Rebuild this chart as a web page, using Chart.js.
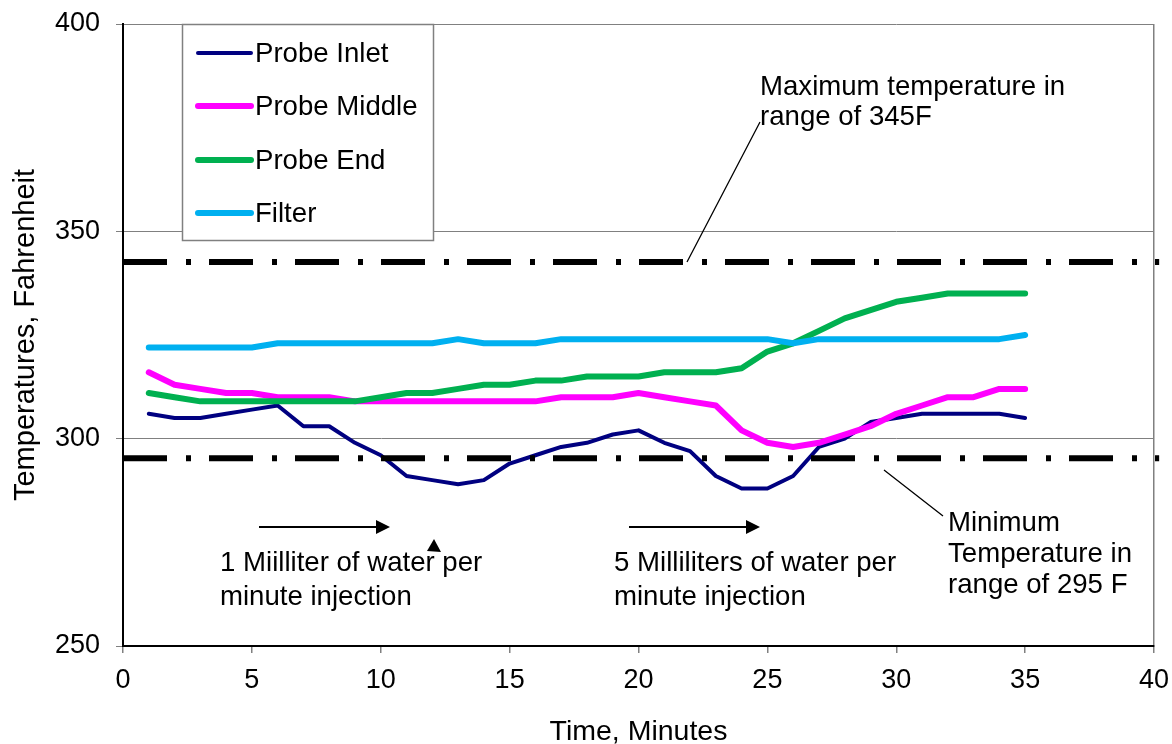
<!DOCTYPE html>
<html>
<head>
<meta charset="utf-8">
<script src="https://cdn.jsdelivr.net/npm/chart.js@4.4.1/dist/chart.umd.min.js"></script>
<style>
  html, body { margin: 0; padding: 0; background: #fff; }
  #wrap { width: 1172px; height: 744px; }
</style>
</head>
<body>
<div id="wrap"><canvas id="lineChart" width="1172" height="744"></canvas></div>
<script>
// time in minutes
const minutes = [1,2,3,4,5,6,7,8,9,10,11,12,13,14,15,16,17,18,19,20,21,22,23,24,25,26,27,28,29,30,31,32,33,34,35];

// temperatures, F
const probeInlet  = [306,305,305,306,307,308,303,303,299,296,291,290,289,290,294,296,298,299,301,302,299,297,291,288,288,291,298,300,304,305,306,306,306,306,305];
const probeMiddle = [316,313,312,311,311,310,310,310,309,309,309,309,309,309,309,309,310,310,310,311,310,309,308,302,299,298,299,301,303,306,308,310,310,312,312];
const probeEnd    = [311,310,309,309,309,309,309,309,309,310,311,311,312,313,313,314,314,315,315,315,316,316,316,317,321,323,326,329,331,333,334,335,335,335,335];
const filterTemp  = [322,322,322,322,322,323,323,323,323,323,323,323,324,323,323,323,324,324,324,324,324,324,324,324,324,323,324,324,324,324,324,324,324,324,325];

// limit lines
const limitX  = [0, 40.2];
const maxTemp = [342.6, 342.6];
const minTemp = [295.3, 295.3];

const seriesNames  = ['Probe Inlet', 'Probe Middle', 'Probe End', 'Filter'];
const seriesColors = ['#000080', '#FF00FF', '#00B050', '#00B0F0'];
const seriesWidths = [4, 6, 6, 6];
const seriesData   = [probeInlet, probeMiddle, probeEnd, filterTemp];

const FONT = "'Liberation Sans', Arial, sans-serif";
const FS = 27;      // ticks
const NS = 27.6;    // legend + notes
const TS = 29;      // axis titles

function pts(xs, ys) {
    return xs.map((x, i) => ({ x: x, y: ys[i] }));
}

let datasets = seriesNames.map((name, i) => ({
    label: name,
    data: pts(minutes, seriesData[i]),
    borderColor: seriesColors[i],
    backgroundColor: seriesColors[i],
    borderWidth: seriesWidths[i],
    borderCapStyle: 'round',
    borderJoinStyle: 'round',
    pointRadius: 0,
    tension: 0,
    order: 3 - i
}));

[maxTemp, minTemp].forEach(arr => {
    datasets.push({
        label: '',
        data: pts(limitX, arr),
        borderColor: '#000',
        borderWidth: 6,
        borderDash: [44, 19, 5, 18],
        borderCapStyle: 'butt',
        pointRadius: 0,
        clip: false,
        order: -1,
        isLimit: true
    });
});

// legend box and text notes
const notes = {
    id: 'notes',
    afterDraw(chart) {
        const c = chart.ctx;
        c.save();
        // legend
        c.fillStyle = '#fff';
        c.fillRect(182, 24, 251, 217);
        c.strokeStyle = '#808080';
        c.lineWidth = 1.5;
        c.strokeRect(182.5, 24.5, 251, 216);
        const rows = [53, 106, 160, 213];
        c.font = NS + 'px ' + FONT;
        c.textBaseline = 'middle';
        c.textAlign = 'left';
        chart.data.datasets.forEach((ds, i) => {
            if (ds.isLimit) return;
            c.strokeStyle = ds.borderColor;
            c.lineWidth = ds.borderWidth;
            c.lineCap = 'round';
            c.beginPath();
            c.moveTo(198, rows[i]);
            c.lineTo(251, rows[i]);
            c.stroke();
            c.fillStyle = '#000';
            c.fillText(ds.label, 255, rows[i] + 1);
        });

        // annotations
        c.fillStyle = '#000';
        c.textBaseline = 'alphabetic';
        c.fillText('Maximum temperature in', 760, 95);
        c.fillText('range of 345F', 760, 125);
        c.fillText('1 Miilliter of water per', 220, 571);
        c.fillText('minute injection', 220, 605);
        c.fillText('5 Milliliters of water per', 614, 571);
        c.fillText('minute injection', 614, 605);
        c.fillText('Minimum', 948, 531);
        c.fillText('Temperature in', 948, 562);
        c.fillText('range of 295 F', 948, 593);

        // leader lines
        c.strokeStyle = '#000';
        c.lineWidth = 1.3;
        c.lineCap = 'butt';
        c.beginPath();
        c.moveTo(760, 122); c.lineTo(687, 262);
        c.moveTo(884, 470); c.lineTo(943, 516);
        c.stroke();

        // arrows
        [[259, 390], [629, 760]].forEach(a => {
            c.lineWidth = 2;
            c.beginPath();
            c.moveTo(a[0], 527);
            c.lineTo(a[1] - 12, 527);
            c.stroke();
            c.beginPath();
            c.moveTo(a[1], 527);
            c.lineTo(a[1] - 14, 520);
            c.lineTo(a[1] - 14, 534);
            c.closePath();
            c.fill();
        });
        // small stray arrowhead
        c.beginPath();
        c.moveTo(434, 539);
        c.lineTo(427, 551);
        c.lineTo(441, 552);
        c.closePath();
        c.fill();
        c.restore();
    }
};

const line = document.getElementById('lineChart');
const lineChart = new Chart(line, {
    type: 'line',
    data: { datasets: datasets },
    options: {
        responsive: false,
        animation: false,
        events: [],
        layout: { padding: { top: 24, right: 18, left: 0, bottom: 0 } },
        plugins: {
            legend: { display: false },
            tooltip: { enabled: false }
        },
        scales: {
            x: {
                type: 'linear',
                min: 0,
                max: 40,
                afterFit: s => {
                    s.height = 98;
                    s.paddingLeft = 0;
                    s.paddingRight = 0;
                },
                ticks: {
                    stepSize: 5,
                    color: '#000',
                    font: { family: FONT, size: FS },
                    padding: 11,
                    maxRotation: 0
                },
                grid: {
                    color: ctx => ctx.tick && ctx.tick.value === 40 ? '#808080' : 'rgba(0,0,0,0)',
                    lineWidth: 1.5,
                    tickColor: '#808080',
                    tickLength: 7
                },
                border: { color: '#000', width: 2 },
                title: {
                    display: true,
                    text: 'Time, Minutes',
                    color: '#000',
                    font: { family: FONT, size: TS - 0.5, lineHeight: 0.8 },
                    padding: { top: 0, bottom: 0 }
                }
            },
            y: {
                min: 250,
                max: 400,
                afterFit: s => {
                    s.width = 123;
                    s.paddingTop = 0;
                    s.paddingBottom = 0;
                },
                ticks: {
                    stepSize: 50,
                    color: '#000',
                    font: { family: FONT, size: FS },
                    padding: 16
                },
                grid: {
                    color: '#808080',
                    lineWidth: 1,
                    tickColor: '#808080',
                    tickLength: 7
                },
                border: { color: '#000', width: 2 },
                title: {
                    display: true,
                    text: 'Temperatures, Fahrenheit',
                    color: '#000',
                    font: { family: FONT, size: TS, lineHeight: 1 },
                    padding: { top: 11, bottom: 0 }
                }
            }
        }
    },
    plugins: [notes]
});
</script>
</body>
</html>
